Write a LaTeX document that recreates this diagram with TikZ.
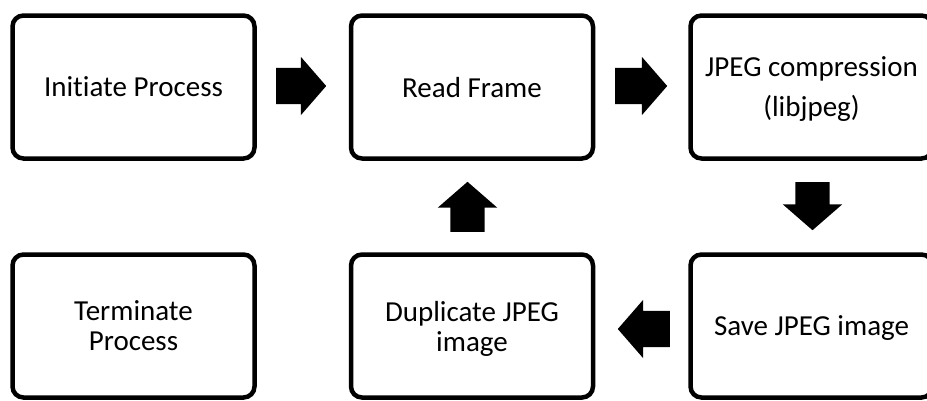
\documentclass[tikz,border=0pt]{standalone}
\usepackage{fontspec}
\setmainfont{Carlito}[Ligatures=NoCommon]
\usetikzlibrary{shapes.arrows}
\begin{document}
\begin{tikzpicture}[x=1pt,y=-1pt,
  procbox/.style={draw=black, line width=4.5pt, rounded corners=11pt, fill=white,
    minimum width=242pt, minimum height=143pt, inner sep=0pt, align=center,
    font=\fontsize{29}{30}\selectfont, text depth=0pt},
  blockarrow/.style={single arrow, fill=black, draw=none, inner xsep=0pt,
    inner ysep=18pt, single arrow head extend=11pt, single arrow tip angle=98,
    anchor=tail},
  vblockarrow/.style={blockarrow, inner ysep=17pt, single arrow head extend=12.5pt}]
\useasboundingbox (0,0) rectangle (927,400);
\fill[white] (0,0) rectangle (927,400);
\clip (0,0) rectangle (927,400);
% boxes
\node[procbox] (init) at (133.5,87) {Initiate Process};
\node[procbox] (read) at (472,87) {Read Frame};
\node[procbox] (jpeg) at (811.5,87) {JPEG compression\\[10pt](libjpeg)};
\node[procbox] (term) at (133.5,326) {Terminate\\Process};
\node[procbox] (dup) at (472,326) {Duplicate JPEG\\image};
\node[procbox] (save) at (811.5,326) {Save JPEG image};
% block arrows
\node[blockarrow, minimum height=50pt] (a1) at (276,86) {};
\node[blockarrow, minimum height=52pt] (a2) at (615,86) {};
\node[vblockarrow, minimum height=48pt, rotate=-90] (a3) at (812.5,182) {};
\node[blockarrow, minimum height=52pt, rotate=180] (a4) at (670,329) {};
\node[vblockarrow, minimum height=50pt, rotate=90] (a5) at (467.5,232) {};
\end{tikzpicture}
\end{document}
